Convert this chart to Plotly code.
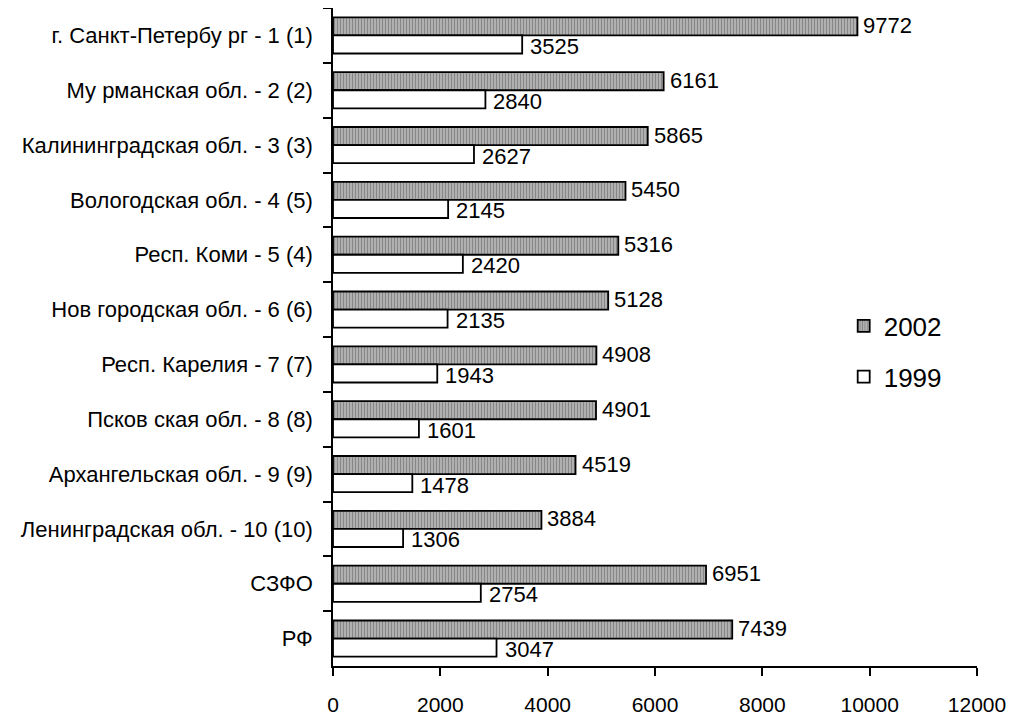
import plotly.graph_objects as go

regions = [
    "г. Санкт-Петербу рг - 1 (1)",
    "Му рманская обл. - 2 (2)",
    "Калининградская обл. - 3 (3)",
    "Вологодская обл. - 4 (5)",
    "Респ. Коми - 5 (4)",
    "Нов городская обл. - 6 (6)",
    "Респ. Карелия - 7 (7)",
    "Псков ская обл. - 8 (8)",
    "Архангельская обл. - 9 (9)",
    "Ленинградская обл. - 10 (10)",
    "СЗФО",
    "РФ",
]
values_2002 = [9772, 6161, 5865, 5450, 5316, 5128, 4908, 4901, 4519, 3884, 6951, 7439]
values_1999 = [3525, 2840, 2627, 2145, 2420, 2135, 1943, 1601, 1478, 1306, 2754, 3047]
x_ticks = [0, 2000, 4000, 6000, 8000, 10000, 12000]

font_family = "Arial, Liberation Sans, sans-serif"

fig = go.Figure()
fig.add_trace(
    go.Bar(
        y=regions,
        x=values_2002,
        orientation="h",
        name="2002",
        legendgroup="a",
        marker=dict(
            color="#a8a8a8",
            line=dict(color="black", width=1.8),
            pattern=dict(shape="|", fgcolor="#5a5a5a", bgcolor="#b4b4b4", size=3, solidity=0.4),
        ),
    )
)
fig.add_trace(
    go.Bar(
        y=regions,
        x=values_1999,
        orientation="h",
        name="1999",
        legendgroup="b",
        marker=dict(color="white", line=dict(color="black", width=1.8)),
    )
)

for name, v2002, v1999 in zip(regions, values_2002, values_1999):
    fig.add_annotation(x=v2002, y=name, text=str(v2002), showarrow=False,
                       xanchor="left", xshift=4, yshift=10,
                       font=dict(size=22, color="black", family=font_family))
    fig.add_annotation(x=v1999, y=name, text=str(v1999), showarrow=False,
                       xanchor="left", xshift=6, yshift=-11,
                       font=dict(size=22, color="black", family=font_family))

fig.update_layout(
    width=1015,
    height=719,
    barmode="group",
    bargap=0.34,
    bargroupgap=0,
    plot_bgcolor="white",
    paper_bgcolor="white",
    margin=dict(l=325, r=46, t=0, b=61, autoexpand=False),
    font=dict(family=font_family, size=22, color="black"),
    legend=dict(
        x=0.793, y=0.478, xanchor="left", yanchor="middle",
        font=dict(size=26), tracegroupgap=14, traceorder="grouped",
        bgcolor="rgba(0,0,0,0)",
    ),
    showlegend=True,
)
fig.update_xaxes(
    range=[0, 12000],
    tickvals=x_ticks,
    ticktext=[str(t) for t in x_ticks],
    showgrid=False,
    zeroline=False,
    showline=True,
    linecolor="black",
    linewidth=1.5,
    ticks="outside",
    ticklen=8,
    tickcolor="black",
    tickwidth=1.5,
    tickfont=dict(size=21),
    ticklabelstandoff=11,
    automargin=False,
)
fig.update_yaxes(
    autorange="reversed",
    showgrid=False,
    showline=True,
    linecolor="black",
    linewidth=1.5,
    ticks="outside",
    tickson="boundaries",
    ticklen=8,
    tickcolor="black",
    tickwidth=1.5,
    tickfont=dict(size=22),
    ticklabelstandoff=14,
    automargin=False,
)

fig.write_html("out.html")
